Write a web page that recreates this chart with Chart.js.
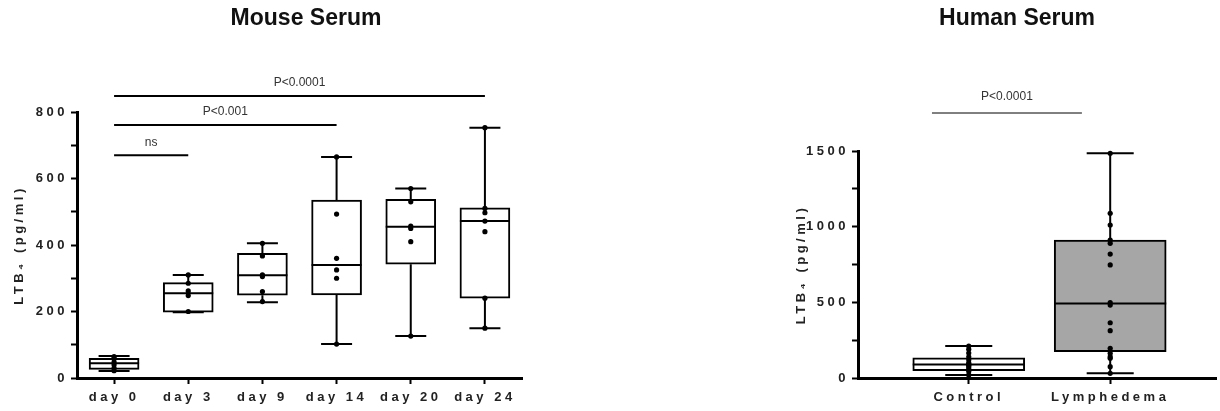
<!DOCTYPE html>
<html>
<head>
<meta charset="utf-8">
<title>LTB4 serum levels</title>
<script src="https://cdn.jsdelivr.net/npm/chart.js@4.4.1/dist/chart.umd.min.js"></script>
<style>
    html, body { margin: 0; padding: 0; background: #fff; }
    body { width: 1220px; height: 411px; position: relative; overflow: hidden; }
    canvas { position: absolute; top: 0; }
    #mouse-chart { left: 0; }
    #human-chart { left: 780px; }
</style>
</head>
<body>
<canvas id="mouse-chart" width="560" height="411"></canvas>
<canvas id="human-chart" width="440" height="411"></canvas>
<script>
// Mouse serum: box statistics per time point
const mouseDays = ['day 0', 'day 3', 'day 9', 'day 14', 'day 20', 'day 24'];
const mouseMin = [21, 198, 228, 102, 126, 150];
const mouseQ1 = [26, 198, 249, 250, 342, 240];
const mouseMedian = [44, 255, 309, 340, 455, 472];
const mouseQ3 = [59, 287, 375, 535, 537, 512];
const mouseMax = [66, 310, 405, 665, 570, 753];

// Mouse serum: individual animals
const mouseDay0 = [64, 58, 48, 40, 30, 22];
const mouseDay3 = [310, 285, 262, 248, 200];
const mouseDay9 = [405, 367, 310, 305, 260, 230];
const mouseDay14 = [665, 493, 360, 325, 300, 102];
const mouseDay20 = [570, 530, 457, 450, 410, 126];
const mouseDay24 = [753, 510, 497, 472, 440, 240, 150];

// Mouse serum: comparisons (category index from -> to, height in pg/ml)
const mouseSigFrom = [0, 0, 0];
const mouseSigTo = [1, 3, 5];
const mouseSigLevel = [670, 761, 848];
const mouseSigText = ['ns', 'P<0.001', 'P<0.0001'];

// Human serum
const humanGroups = ['Control', 'Lymphedema'];
const humanMin = [20, 31];
const humanQ1 = [48, 174];
const humanMedian = [90, 493];
const humanQ3 = [134, 912];
const humanMax = [211, 1485];
const controlPoints = [211, 190, 165, 140, 120, 100, 92, 85, 75, 60, 45, 20];
const lymphedemaPoints = [1485, 1088, 1011, 912, 890, 819, 747, 498, 482, 365, 313, 196, 163, 141, 130, 75, 31];

const humanSigFrom = [-0.26];
const humanSigTo = [0.8];
const humanSigLevel = [1751];
const humanSigText = ['P<0.0001'];

const FONT = '"Liberation Sans", Arial, Helvetica, sans-serif';

// Letter spaced axis text like the original figure
const spacingPlugin = {
    id: 'spacing',
    beforeUpdate(chart) { chart.ctx.letterSpacing = '3.5px'; },
    beforeDraw(chart) { chart.ctx.letterSpacing = '3.5px'; }
};

// Whiskers, caps and median drawn on top of the floating bar (the box)
const boxPlotPlugin = {
    id: 'boxPlot',
    afterDatasetDraw(chart, args, opts) {
        if (args.index !== 0) return;
        const ctx = chart.ctx;
        const y = chart.scales.y;
        ctx.save();
        ctx.strokeStyle = '#000';
        ctx.lineWidth = 2;
        args.meta.data.forEach((bar, i) => {
            const half = bar.width / 2;
            const cap = half * opts.capRatio;
            const pMin = y.getPixelForValue(opts.min[i]);
            const pMax = y.getPixelForValue(opts.max[i]);
            const pQ1 = y.getPixelForValue(opts.q1[i]);
            const pQ3 = y.getPixelForValue(opts.q3[i]);
            const pMed = y.getPixelForValue(opts.median[i]);
            ctx.beginPath();
            ctx.moveTo(bar.x, pQ3); ctx.lineTo(bar.x, pMax);
            ctx.moveTo(bar.x - cap, pMax); ctx.lineTo(bar.x + cap, pMax);
            ctx.moveTo(bar.x, pQ1); ctx.lineTo(bar.x, pMin);
            ctx.moveTo(bar.x - cap, pMin); ctx.lineTo(bar.x + cap, pMin);
            ctx.moveTo(bar.x - half, pMed); ctx.lineTo(bar.x + half, pMed);
            ctx.stroke();
        });
        ctx.restore();
    }
};

// Significance bars, p-value text and panel title
const annotatePlugin = {
    id: 'annotate',
    afterDraw(chart, args, opts) {
        const ctx = chart.ctx;
        const x = chart.scales.x, y = chart.scales.y;
        ctx.save();
        ctx.letterSpacing = '0px';
        ctx.strokeStyle = '#000';
        ctx.lineWidth = opts.lineWidth;
        ctx.fillStyle = '#333';
        ctx.font = '12px ' + FONT;
        ctx.textAlign = 'center';
        ctx.textBaseline = 'middle';
        opts.from.forEach((f, i) => {
            const x1 = x.getPixelForValue(f);
            const x2 = x.getPixelForValue(opts.to[i]);
            const py = y.getPixelForValue(opts.level[i]);
            ctx.beginPath();
            ctx.moveTo(x1, py);
            ctx.lineTo(x2, py);
            ctx.stroke();
            ctx.fillText(opts.text[i], (x1 + x2) / 2, py - opts.textGap);
        });
        ctx.fillStyle = '#111';
        ctx.font = 'bold 23px ' + FONT;
        ctx.fillText(opts.title, opts.titleX, 19);
        ctx.restore();
    }
};

function pointsFor(xs, lists) {
    const out = [];
    lists.forEach((list, i) => list.forEach(v => out.push({ x: xs[i], y: v })));
    return out;
}

function axisFont() {
    return { family: FONT, size: 13, weight: 'bold' };
}

function createBoxChart(canvasId, cfg) {
    const ctx = document.getElementById(canvasId).getContext('2d');
    return new Chart(ctx, {
        type: 'bar',
        data: {
            labels: cfg.labels,
            datasets: [{
                data: cfg.boxes,
                backgroundColor: cfg.fill,
                borderColor: '#000',
                borderWidth: 2,
                borderSkipped: false,
                barThickness: cfg.boxWidth,
                order: 2,
                clip: false
            }, {
                type: 'line',
                data: cfg.points,
                showLine: false,
                pointRadius: 2.6,
                pointBackgroundColor: '#000',
                pointBorderWidth: 0,
                order: 1,
                clip: false
            }]
        },
        options: {
            responsive: false,
            animation: false,
            events: [],
            layout: { padding: cfg.padding },
            plugins: {
                legend: { display: false },
                tooltip: { enabled: false },
                boxPlot: cfg.box,
                annotate: cfg.annotate
            },
            scales: {
                x: cfg.xScale,
                y: {
                    min: 0,
                    max: cfg.yMax,
                    afterFit(scale) { scale.width = cfg.yWidth; },
                    ticks: {
                        stepSize: cfg.yStep,
                        color: '#222',
                        font: axisFont(),
                        padding: 3,
                        callback: v => (v % cfg.yLabelStep === 0 ? v : '')
                    },
                    grid: { drawOnChartArea: false, tickLength: 6, tickColor: '#000', tickWidth: 2 },
                    border: { color: '#000', width: 3 },
                    title: {
                        display: true,
                        text: 'LTB₄ (pg/ml)',
                        color: '#222',
                        font: axisFont(),
                        padding: { top: cfg.titlePad, bottom: 0 }
                    }
                }
            }
        },
        plugins: [spacingPlugin, boxPlotPlugin, annotatePlugin]
    });
}

const sharedX = {
    afterFit(scale) { scale.height = 33; },
    ticks: { color: '#222', font: axisFont(), padding: 6, maxRotation: 0 },
    grid: { drawOnChartArea: false, offset: false, tickLength: 6, tickColor: '#000', tickWidth: 2 },
    border: { color: '#000', width: 3 }
};

createBoxChart('mouse-chart', {
    labels: mouseDays,
    boxes: mouseDays.map((d, i) => [mouseQ1[i], mouseQ3[i]]),
    points: pointsFor(mouseDays, [mouseDay0, mouseDay3, mouseDay9, mouseDay14, mouseDay20, mouseDay24]),
    fill: '#fff',
    boxWidth: 50,
    padding: { top: 112, right: 38, bottom: 0, left: 0 },
    yMax: 800, yStep: 100, yLabelStep: 200, yWidth: 77, titlePad: 12,
    box: { min: mouseMin, q1: mouseQ1, median: mouseMedian, q3: mouseQ3, max: mouseMax, capRatio: 0.62 },
    annotate: {
        from: mouseSigFrom, to: mouseSigTo, level: mouseSigLevel, text: mouseSigText,
        lineWidth: 2, textGap: 13, title: 'Mouse Serum', titleX: 306
    },
    xScale: Object.assign({}, sharedX, { offset: true })
});

createBoxChart('human-chart', {
    labels: humanGroups,
    boxes: humanGroups.map((g, i) => ({ x: i, y: [humanQ1[i], humanQ3[i]] })),
    points: pointsFor([0, 1], [controlPoints, lymphedemaPoints]),
    fill: ['#fff', '#a6a6a6'],
    boxWidth: 112,
    padding: { top: 151, right: 0, bottom: 0, left: 0 },
    yMax: 1500, yStep: 250, yLabelStep: 500, yWidth: 78, titlePad: 14,
    box: { min: humanMin, q1: humanQ1, median: humanMedian, q3: humanQ3, max: humanMax, capRatio: 0.42 },
    annotate: {
        from: humanSigFrom, to: humanSigTo, level: humanSigLevel, text: humanSigText,
        lineWidth: 1, textGap: 16, title: 'Human Serum', titleX: 237
    },
    xScale: Object.assign({}, sharedX, {
        type: 'linear',
        min: -0.783,
        max: 1.748,
        offset: false,
        afterBuildTicks(scale) { scale.ticks = humanGroups.map((g, i) => ({ value: i })); },
        ticks: Object.assign({}, sharedX.ticks, { callback: v => humanGroups[v] })
    })
});
</script>
</body>
</html>
